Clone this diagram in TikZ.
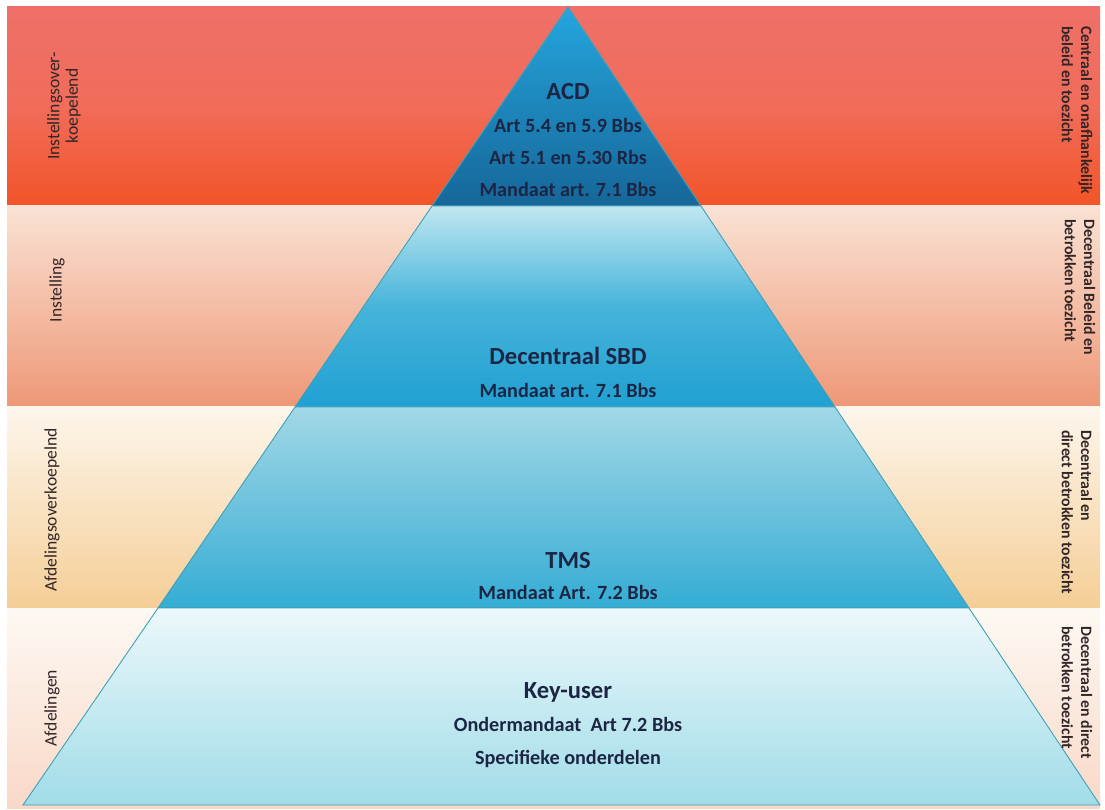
\documentclass[tikz,border=0pt]{standalone}
\usepackage{fontspec}
\setmainfont{Carlito}
\usetikzlibrary{positioning}
\definecolor{bandOneTop}{RGB}{238,112,104}
\definecolor{bandOneMid}{RGB}{241,108,90}
\definecolor{bandOneBot}{RGB}{242,84,40}
\definecolor{bandTwoTop}{RGB}{250,226,212}
\definecolor{bandTwoBot}{RGB}{238,152,118}
\definecolor{bandThreeTop}{RGB}{253,246,236}
\definecolor{bandThreeBot}{RGB}{245,206,150}
\definecolor{bandFourTop}{RGB}{253,249,243}
\definecolor{bandFourBot}{RGB}{249,216,200}
\definecolor{acdTop}{RGB}{36,166,222}
\definecolor{acdBot}{RGB}{22,102,152}
\definecolor{sbdTop}{RGB}{192,231,241}
\definecolor{sbdMid}{RGB}{70,180,218}
\definecolor{sbdBot}{RGB}{32,160,210}
\definecolor{tmsTop}{RGB}{162,216,230}
\definecolor{tmsBot}{RGB}{52,172,212}
\definecolor{keyTop}{RGB}{236,248,251}
\definecolor{keyBot}{RGB}{160,220,232}
\definecolor{layerEdge}{RGB}{60,160,182}
\definecolor{textNavy}{RGB}{28,38,68}
\definecolor{sideText}{RGB}{50,38,40}
\tikzset{
  band/.style={draw=none},
  layer/.style={draw=layerEdge, line width=0.5pt},
  layerTitle/.style={anchor=base, text=textNavy, font={\bfseries\fontsize{14}{16}\selectfont}},
  layerText/.style={anchor=base, text=textNavy, font={\bfseries\fontsize{11.5}{13}\selectfont}},
  leftLabel/.style={rotate=90, align=center, text=sideText, font={\fontsize{10}{10.5}\selectfont}},
  rightLabel/.style={rotate=-90, anchor=west, align=left, text=sideText, font={\bfseries\fontsize{9}{11}\selectfont}}
}
\begin{document}
\begin{tikzpicture}[x=0.02cm, y=-0.02cm]
  \useasboundingbox (0,0) rectangle (1105,810);
  % background bands
  \shade[band, top color=bandOneTop, bottom color=bandOneBot, middle color=bandOneMid] (7,7) rectangle (1100,206);
  \shade[band, top color=bandTwoTop, bottom color=bandTwoBot] (7,206) rectangle (1100,407);
  \shade[band, top color=bandThreeTop, bottom color=bandThreeBot] (7,407) rectangle (1100,608);
  \shade[band, top color=bandFourTop, bottom color=bandFourBot] (7,608) rectangle (1100,808);
  % pyramid corners
  \coordinate (apex) at (568,7);
  \coordinate (l1) at (432,206); \coordinate (r1) at (701,206);
  \coordinate (l2) at (295,407); \coordinate (r2) at (835,407);
  \coordinate (l3) at (158,608); \coordinate (r3) at (969,608);
  \coordinate (l4) at (23,805);  \coordinate (r4) at (1100,805);
  % pyramid layers
  \shade[layer, top color=acdTop, bottom color=acdBot] (apex) -- (r1) -- (l1) -- cycle;
  \shade[layer, top color=sbdTop, bottom color=sbdBot, middle color=sbdMid] (l1) -- (r1) -- (r2) -- (l2) -- cycle;
  \shade[layer, top color=tmsTop, bottom color=tmsBot] (l2) -- (r2) -- (r3) -- (l3) -- cycle;
  \shade[layer, top color=keyTop, bottom color=keyBot] (l3) -- (r3) -- (r4) -- (l4) -- cycle;
  % layer texts
  \node[layerTitle] (acd) at (568,100) {ACD};
  \node[layerText] (acdArtA) at (568,133) {Art 5.4 en 5.9 Bbs};
  \node[layerText] (acdArtB) at (568,165) {Art 5.1 en 5.30 Rbs};
  \node[layerText] (acdMandaat) at (568,197) {Mandaat art. 7.1 Bbs};
  \node[layerTitle] (sbd) at (568,365) {Decentraal SBD};
  \node[layerText] (sbdMandaat) at (568,398) {Mandaat art. 7.1 Bbs};
  \node[layerTitle] (tms) at (568,568) {TMS};
  \node[layerText] (tmsMandaat) at (568,599) {Mandaat Art. 7.2 Bbs};
  \node[layerTitle] (keyuser) at (568,698) {Key-user};
  \node[layerText] (keyOnder) at (568,731) {Ondermandaat\ \ Art 7.2 Bbs};
  \node[layerText] (keySpec) at (568,764) {Specifieke onderdelen};
  % left labels
  \node[leftLabel] (lblInstOver) at (64,106) {Instellingsover-\\koepelend};
  \node[leftLabel] (lblInst) at (57,290) {Instelling};
  \node[leftLabel] (lblAfdOver) at (52,510) {Afdelingsoverkoepelnd};
  \node[leftLabel] (lblAfd) at (52,708) {Afdelingen};
  % right labels
  \node[rightLabel] (lblCentraal) at (1077,20) {Centraal en onafhankelijk\\beleid en toezicht};
  \node[rightLabel] (lblDecBeleid) at (1080,213) {Decentraal Beleid en\\betrokken toezicht};
  \node[rightLabel] (lblDecDirect) at (1077,424) {Decentraal en\\direct betrokken toezicht};
  \node[rightLabel] (lblDecBetr) at (1077,620) {Decentraal en direct\\betrokken toezicht};
\end{tikzpicture}
\end{document}
